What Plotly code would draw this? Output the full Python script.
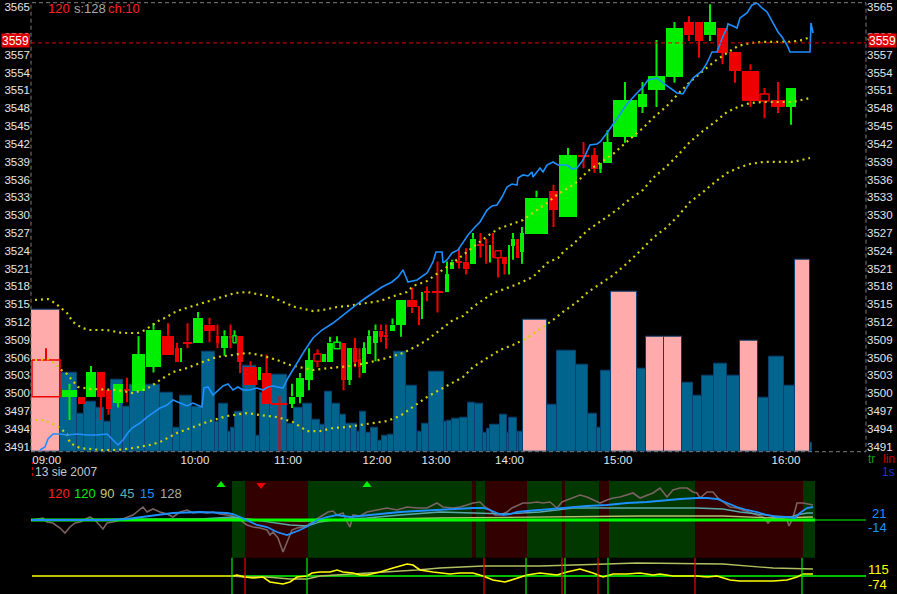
import plotly.graph_objects as go

W, H = 897, 594
FONT = "Liberation Sans, Arial, sans-serif"

# ---------------- data ----------------
# x: cumulative trade-count units (axis spans 31..866)
cand_x0 = [32,62,78,86,97,106,113,124,132,146,162,175,180,183,193,204,216,221,229,233,237,244,258,262,272,289,296,305,314,322,327,334,341,347,353,358,362,367,373,379,384,390,396,407,418,421,424,432,445,450,456,463,470,477,485,489,492,495,502,508,511,516,520,525,549,559,578,591,599,603,613,638,648,666,684,695,704,717,729,742,760,771,786]
cand_x1 = [60,77,85,96,105,111,123,130,145,161,174,179,182,192,203,215,219,228,232,236,243,257,261,271,287,295,304,313,321,326,333,340,346,352,357,361,366,371,378,383,388,395,406,417,420,423,430,443,449,454,462,469,476,484,487,491,494,501,507,510,515,519,524,548,558,577,589,598,602,612,637,647,665,683,694,703,716,728,741,759,769,785,796]
cand_open = [3505.6,3499.4,3499.5,3499.4,3503.6,3500.6,3498.4,3500.7,3500.4,3504.5,
             3509.7,3507.6,3505.4,3508.7,3508.6,3511.6,3509.7,3507.6,3509.7,3508.5,
             3509.7,3504.5,3502.3,3503.4,3498.4,3498.3,3499.4,3502.3,3506.6,3505.4,
             3505.4,3507.5,3508.6,3502.3,3507.6,3505.8,3503.4,3506.6,3508.6,3510.6,
             3509.8,3510.5,3511.5,3515.8,3514.7,3513.6,3517.2,3517.2,3517.1,3520.9,
             3522.3,3522.2,3521.8,3525.1,3525.0,3522.8,3525.0,3524.0,3523.0,3521.8,
             3524.9,3526.0,3523.9,3526.8,3534.1,3529.8,3540.2,3540.1,3537.9,3538.9,
             3543.2,3548.2,3551.2,3553.3,3562.5,3562.5,3560.3,3561.5,3557.5,3554.4,
             3550.4,3549.4,3548.2]
cand_high = [3507.6,3501.6,3499.5,3504.6,3503.6,3500.6,3501.6,3502.6,3509.6,3511.8,
             3511.8,3508.5,3507.6,3511.8,3513.7,3512.7,3511.6,3510.6,3511.6,3510.6,
             3509.7,3505.4,3504.5,3506.5,3499.5,3501.6,3503.4,3507.6,3507.4,3506.6,
             3509.5,3509.6,3508.6,3507.6,3509.3,3507.6,3508.6,3510.6,3511.6,3511.6,
             3511.6,3512.6,3515.8,3517.8,3514.7,3517.1,3518.0,3522.2,3522.2,3522.5,
             3524.5,3524.4,3527.0,3527.0,3526.0,3525.0,3527.0,3524.0,3523.0,3525.0,
             3527.0,3526.0,3528.0,3534.1,3535.1,3541.3,3542.3,3541.3,3538.9,3544.3,
             3552.4,3552.4,3559.5,3562.5,3563.5,3562.5,3565.5,3561.5,3557.5,3555.4,
             3551.4,3552.4,3551.4]
cand_low = [3499.4,3495.5,3498.3,3499.4,3495.5,3496.4,3497.6,3498.5,3500.4,3503.5,
            3506.5,3505.4,3505.4,3507.6,3508.6,3508.6,3507.6,3506.3,3507.6,3508.5,
            3503.4,3501.4,3502.3,3498.3,3490.2,3497.5,3498.3,3500.5,3504.4,3505.4,
            3505.4,3507.5,3500.5,3501.4,3504.4,3502.6,3503.4,3506.6,3505.4,3508.6,
            3507.5,3510.5,3509.5,3513.5,3511.5,3512.5,3515.5,3513.6,3517.1,3520.9,
            3521.0,3520.0,3521.8,3522.8,3521.8,3522.0,3522.8,3519.5,3520.0,3520.0,
            3522.5,3522.8,3521.8,3526.8,3528.0,3529.8,3537.9,3537.1,3537.1,3538.9,
            3542.2,3547.2,3548.2,3552.3,3559.3,3556.5,3559.3,3555.4,3552.3,3548.2,
            3546.3,3547.2,3545.2]
cand_close = [3499.4,3500.6,3498.3,3503.6,3499.4,3497.4,3501.6,3500.5,3506.6,3510.7,
              3506.5,3505.4,3507.6,3508.5,3512.7,3510.5,3508.5,3509.7,3509.5,3509.7,
              3505.4,3501.4,3504.5,3498.3,3498.2,3499.5,3502.6,3505.6,3505.4,3506.6,
              3508.6,3508.6,3502.3,3507.6,3505.4,3504.4,3507.6,3509.7,3510.6,3509.5,
              3509.6,3511.6,3515.8,3514.5,3513.5,3517.1,3517.0,3517.0,3520.1,3522.2,
              3522.1,3520.9,3526.0,3524.9,3522.8,3525.0,3522.8,3522.8,3521.8,3525.0,
              3526.0,3522.8,3527.0,3533.0,3530.9,3540.1,3540.0,3537.9,3538.9,3542.3,
              3549.4,3550.4,3553.4,3561.5,3560.3,3559.3,3562.5,3557.3,3554.3,3549.2,
              3549.2,3548.2,3551.4]
hollow_idx = [0, 19, 28, 31, 57, 80]

vol_x0 = [31,60,77,84,96,104,111,123,130,145,160,173,180,192,202,215,219,228,231,235,243,256,260,270,287,294,303,312,320,325,332,340,346,351,357,360,366,371,378,382,388,394,406,417,418,422,429,444,447,452,460,468,475,483,487,490,500,507,509,517,519,523,547,557,576,588,597,601,611,637,646,664,682,693,702,714,727,740,758,769,784,795,810]
vol_x1 = [60,77,84,96,104,111,123,130,145,160,173,180,192,202,215,219,228,231,235,243,256,260,270,287,294,303,312,320,325,332,340,346,351,357,360,366,371,378,382,388,394,406,417,418,422,429,444,447,452,460,468,475,483,487,490,500,507,509,517,519,523,547,557,576,588,597,601,611,637,646,664,682,693,702,714,727,740,758,769,784,795,810,812]
volume = [142,79,38,50,44,30,72,45,67,67,59,24,56,45,100,30,48,20,24,40,86,16,59,77,28,44,48,32,27,60,48,37,28,28,20,40,19,24,11,16,17,100,66,14,20,28,80,30,31,33,34,49,48,19,23,27,37,19,34,20,20,132,47,101,87,38,24,81,160,83,115,115,69,56,76,88,76,111,54,95,66,192,9]
vol_pink_idx = [0, 61, 68, 70, 71, 77, 81]

line_x = [40,45,48,53,60,67,77,87,97,107,115,118,123,127,132,140,147,153,160,167,173,180,187,193,200,202,204,208,213,218,223,228,233,238,243,250,257,263,268,273,283,288,297,305,313,322,333,343,353,360,367,377,382,392,398,403,408,417,427,433,436,442,443,447,452,458,463,468,475,480,487,492,497,502,507,512,517,518,523,528,532,533,540,543,547,553,558,567,572,577,583,590,597,600,607,617,627,637,643,648,657,663,670,677,683,687,693,702,707,712,717,723,727,728,733,737,740,747,752,757,762,767,773,778,782,787,790,800,810,811,813]
line_p = [3490.45,3490.95,3492.30,3493.14,3493.14,3492.97,3493.14,3492.97,3492.97,3493.14,3491.79,3491.29,3492.13,3493.14,3494.15,3494.99,3496.00,3496.68,3497.52,3498.02,3498.87,3498.36,3497.86,3498.36,3497.86,3497.69,3500.89,3501.06,3499.71,3500.55,3501.22,3501.56,3500.55,3501.06,3500.55,3500.55,3500.89,3500.55,3501.06,3501.22,3500.89,3502.57,3505.10,3507.29,3509.31,3510.65,3511.83,3513.18,3514.53,3515.37,3516.21,3517.39,3517.90,3518.74,3519.58,3520.76,3518.74,3519.08,3520.25,3522.11,3523.79,3523.79,3521.94,3522.44,3523.62,3524.13,3525.31,3526.65,3528.00,3528.84,3530.86,3531.54,3531.71,3533.05,3534.74,3535.24,3535.07,3536.25,3536.76,3536.59,3537.26,3536.42,3537.94,3537.26,3538.44,3538.95,3538.44,3538.44,3537.77,3537.94,3539.28,3541.81,3541.98,3542.32,3543.83,3546.36,3548.72,3550.57,3551.58,3552.76,3553.09,3552.25,3551.41,3550.57,3550.40,3551.58,3553.09,3554.27,3555.62,3557.47,3557.47,3560.17,3561.51,3562.19,3561.85,3561.51,3563.20,3564.04,3565.39,3565.72,3564.88,3564.21,3562.36,3560.84,3560.00,3558.65,3557.47,3557.47,3557.47,3562.36,3560.67]

bandU_x = [35,48,55,60,67,73,82,90,107,122,138,145,153,160,167,173,180,193,205,220,235,247,258,272,283,295,313,323,337,348,360,380,397,407,413,427,438,450,463,474,486,498,510,523,534,547,558,570,577,588,600,613,630,643,653,667,678,690,703,715,727,738,750,763,790,803,810]
bandU_p = [3515.71,3515.87,3515.20,3514.53,3513.52,3512.00,3510.99,3510.65,3510.65,3510.15,3510.15,3510.65,3511.50,3512.34,3512.84,3513.52,3514.02,3514.70,3515.37,3516.21,3516.88,3517.05,3516.72,3516.21,3515.37,3514.53,3513.85,3514.02,3514.53,3514.70,3515.03,3515.54,3516.55,3517.05,3518.06,3518.90,3520.25,3521.60,3523.28,3524.80,3526.31,3527.66,3528.34,3529.18,3530.52,3532.04,3533.56,3534.74,3535.58,3537.43,3538.78,3540.29,3542.82,3544.67,3546.36,3548.38,3550.40,3552.42,3554.27,3555.96,3557.30,3558.48,3558.99,3559.16,3559.16,3559.49,3559.99]
bandM_x = [35,48,55,60,67,78,90,117,133,143,150,160,173,187,200,217,233,247,260,277,290,300,313,330,350,367,387,403,417,427,443,453,463,473,480,493,510,520,533,547,558,565,570,588,607,618,630,643,653,667,678,690,703,715,727,738,750,763,793,810]
bandM_p = [3505.60,3505.77,3505.10,3504.09,3503.24,3501.06,3500.72,3500.55,3500.04,3500.55,3501.06,3502.23,3503.58,3504.25,3505.10,3506.11,3506.45,3506.79,3506.45,3505.60,3504.76,3504.42,3503.92,3504.25,3504.59,3505.10,3505.94,3506.79,3507.96,3508.97,3510.99,3512.34,3513.01,3514.53,3515.37,3516.88,3517.90,3518.57,3519.58,3521.94,3522.78,3524.13,3524.63,3527.50,3529.69,3531.03,3532.72,3534.23,3536.25,3538.27,3540.13,3542.32,3544.17,3545.68,3547.37,3548.21,3548.88,3549.05,3549.05,3549.73]
bandL_x = [35,43,53,60,67,70,80,100,117,133,150,160,177,193,207,227,247,260,277,293,307,320,333,347,360,373,387,400,413,427,443,463,473,487,500,513,527,540,553,563,577,588,601,612,624,637,653,667,678,690,703,715,727,738,750,763,793,810]
bandL_p = [3495.50,3495.50,3494.82,3494.15,3493.14,3491.62,3490.78,3490.45,3490.45,3490.78,3491.29,3491.79,3493.31,3494.32,3495.16,3496.17,3496.67,3496.34,3496.00,3495.16,3493.64,3493.64,3494.15,3494.32,3494.65,3494.99,3495.33,3496.17,3497.69,3499.37,3500.89,3502.74,3504.42,3505.94,3507.29,3508.13,3509.31,3510.82,3512.34,3513.69,3515.37,3517.05,3518.57,3519.75,3521.43,3523.45,3526.15,3528.00,3529.85,3532.21,3533.89,3535.58,3537.09,3537.94,3538.61,3538.95,3538.95,3539.62]

# indicator panel 1
osc128_x = [32,43,47,53,60,65,70,75,80,90,95,100,103,107,113,120,127,133,138,143,147,153,160,167,173,180,187,193,200,207,213,220,227,233,240,247,253,260,267,270,273,278,283,287,292,297,303,308,313,320,328,333,337,343,347,350,353,360,367,377,387,397,407,417,427,437,443,453,460,467,473,480,485,490,495,500,507,512,518,523,530,537,543,550,557,562,567,573,580,587,593,600,607,613,620,627,633,640,647,653,660,667,673,680,687,693,697,700,707,713,718,723,730,737,743,750,757,763,768,773,780,787,789,793,797,803,813]
osc128_v = [0,2,-2,-3,-8,-13,-7,-3,-2,3,0,-5,-9,-3,-2,0,3,5,9,13,8,11,8,6,3,8,10,7,8,7,8,6,5,4,0,-5,-7,-8,-10,-15,-12,-18,-32,-22,-10,-8,-7,-5,-2,3,8,9,5,7,-2,-7,5,4,8,10,12,10,13,12,12,17,13,12,13,15,17,18,13,10,5,5,8,12,15,17,17,18,17,18,12,18,20,22,25,23,20,17,20,22,23,25,27,22,25,27,32,23,30,32,32,28,27,22,28,28,22,18,13,12,10,8,5,3,-3,2,2,0,-6,2,17,17,15]
osc15_x = [32,110,127,140,157,173,200,227,233,240,247,257,267,277,287,293,300,308,317,327,337,350,360,370,383,400,417,433,450,473,483,490,497,503,510,517,527,540,557,573,587,607,627,647,667,680,697,707,717,727,737,747,757,767,777,787,795,800,807,813]
osc15_v = [0,0,1,3,5,7,8,7,6,3,0,-5,-7,-12,-15,-13,-10,-6,0,3,5,3,4,5,7,8,9,10,11,12,12,10,7,5,6,8,9,10,12,13,14,15,17,18,20,21,22,22,21,17,13,10,8,5,3,3,2,7,12,13]
osc45_x = [32,200,233,247,267,290,307,320,333,367,400,440,507,540,573,607,697,723,740,773,790,797,807,813]
osc45_v = [0,1,3,1,-2,-5,-6,-2,0,2,5,8,6,8,12,12,12,11,8,4,3,5,7,7]
osc90_x = [32,233,300,333,440,540,640,723,773,813]
osc90_v = [0,1,-1,0,2,3,4,4,2,3]
regime_edges = [232,245,308,472,476,485,527,562,565,599,609,695,803,815]
arrows_x = [221, 261, 367]
arrows_up = [True, False, True]

# indicator panel 2
sig_x = [32,232,237,240,245,253,263,270,283,290,297,307,312,320,330,337,343,353,360,367,380,393,407,413,420,433,450,460,473,483,493,505,517,527,540,557,567,580,593,603,613,627,640,653,660,673,687,697,707,717,730,740,773,787,797,803,813]
sig_v = [0,0,1,0,-1,-2,-1,-6,-8,-6,-1,0,3,4,4,6,4,3,1,1,4,8,12,11,6,4,2,3,3,0,-4,-6,-2,1,3,1,4,7,3,-1,2,2,3,1,2,0,0,0,-1,0,-4,-5,-5,-4,-1,2,2]
slow_x = [232,245,267,290,307,320,417,440,483,540,607,637,723,773,813]
slow_v = [0,-1,-1,-3,-3,0,6,8,10,10,12,13,12,8,7]
signal_lines_x = [232,245,307,484,526,562,565,598,608,695,802]
signal_lines_buy = [True,False,True,False,True,False,True,False,True,False,True]

time_tick_pos = [46.7,195,288,377,436,509.5,618,786]
time_tick_txt = ["09:00","10:00","11:00","12:00","13:00","14:00","15:00","16:00"]
price_ticks = [3491 + 3*k for k in range(23)] + [3560, 3565]
last_price = 3559

# ---------------- figure ----------------
GREEN = "#00ee00"; RED = "#ee0000"; BLUE = "#1e8fff"; DOT = "#d2d200"
fig = go.Figure()

vcol = ["#ffabab" if i in vol_pink_idx else "#00648c" for i in range(len(volume))]
fig.add_trace(go.Bar(x=[(a+b)/2 for a, b in zip(vol_x0, vol_x1)], y=volume,
                     width=[b-a for a, b in zip(vol_x0, vol_x1)],
                     marker=dict(color=vcol, line=dict(color="#0b3f6e", width=1)),
                     yaxis="y", hoverinfo="skip", showlegend=False))

cx = [(a+b)/2 for a, b in zip(cand_x0, cand_x1)]
cw = [b-a for a, b in zip(cand_x0, cand_x1)]
ccol = [GREEN if c > o else RED for o, c in zip(cand_open, cand_close)]
for colr in (GREEN, RED):
    wx, wy = [], []
    for i in range(len(cx)):
        if ccol[i] != colr:
            continue
        top = max(cand_open[i], cand_close[i]); bot = min(cand_open[i], cand_close[i])
        if cand_high[i] > top:
            wx += [cx[i], cx[i], None]; wy += [top, cand_high[i], None]
        if cand_low[i] < bot:
            wx += [cx[i], cx[i], None]; wy += [bot, cand_low[i], None]
    fig.add_trace(go.Scatter(x=wx, y=wy, mode="lines", line=dict(color=colr, width=2),
                             yaxis="y2", hoverinfo="skip", showlegend=False))
# filled bodies
MINB = 0.3
solid = [i for i in range(len(cx)) if i not in hollow_idx]
base, hgt = [], []
for i in solid:
    o, c = cand_open[i], cand_close[i]
    b = min(o, c); h = abs(c - o)
    if h < MINB:
        b -= (MINB - h) / 2; h = MINB
    base.append(b); hgt.append(h)
fig.add_trace(go.Bar(x=[cx[i] for i in solid], y=hgt, base=base, width=[cw[i] for i in solid],
                     marker=dict(color=[ccol[i] for i in solid], line=dict(width=0)),
                     yaxis="y2", hoverinfo="skip", showlegend=False))
# hollow bodies (outlines)
for colr in (GREEN, RED):
    hx, hy = [], []
    for i in hollow_idx:
        if ccol[i] != colr:
            continue
        o, c = cand_open[i], cand_close[i]
        hx += [cand_x0[i], cand_x1[i], cand_x1[i], cand_x0[i], cand_x0[i], None]
        hy += [o, o, c, c, o, None]
    if hx:
        fig.add_trace(go.Scatter(x=hx, y=hy, mode="lines", line=dict(color=colr, width=1.5),
                                 yaxis="y2", hoverinfo="skip", showlegend=False))

for bx, bp in ((bandU_x, bandU_p), (bandM_x, bandM_p), (bandL_x, bandL_p)):
    fig.add_trace(go.Scatter(x=bx, y=bp, mode="lines", line=dict(color=DOT, width=2.2, dash="2px,4px"),
                             yaxis="y2", hoverinfo="skip", showlegend=False))
fig.add_trace(go.Scatter(x=line_x, y=line_p, mode="lines", line=dict(color=BLUE, width=1.6),
                         yaxis="y2", hoverinfo="skip", showlegend=False))
fig.add_trace(go.Scatter(x=[cand_x0[0]], y=[last_price], mode="markers", marker=dict(opacity=0),
                         yaxis="y5", hoverinfo="skip", showlegend=False))

fig.add_trace(go.Scatter(x=osc128_x, y=osc128_v, mode="lines", line=dict(color="#7a6262", width=1.6),
                         yaxis="y3", hoverinfo="skip", showlegend=False))
fig.add_trace(go.Scatter(x=osc90_x, y=osc90_v, mode="lines", line=dict(color="#b8c070", width=1.3),
                         yaxis="y3", hoverinfo="skip", showlegend=False))
fig.add_trace(go.Scatter(x=osc45_x, y=osc45_v, mode="lines", line=dict(color="#5aa8a8", width=1.3),
                         yaxis="y3", hoverinfo="skip", showlegend=False))
fig.add_trace(go.Scatter(x=[31, 815], y=[0, 0], mode="lines", line=dict(color="#00ff00", width=3),
                         yaxis="y3", hoverinfo="skip", showlegend=False))
fig.add_trace(go.Scatter(x=[815, 866], y=[0, 0], mode="lines", line=dict(color="#00ff00", width=1.2),
                         yaxis="y3", hoverinfo="skip", showlegend=False))
fig.add_trace(go.Scatter(x=osc15_x, y=osc15_v, mode="lines", line=dict(color=BLUE, width=1.8),
                         yaxis="y3", hoverinfo="skip", showlegend=False))
fig.add_trace(go.Scatter(x=arrows_x, y=[35]*len(arrows_x), mode="markers",
                         marker=dict(symbol=["triangle-up" if u else "triangle-down" for u in arrows_up],
                                     color=["#00ee00" if u else "#ee0000" for u in arrows_up], size=8),
                         yaxis="y3", hoverinfo="skip", showlegend=False))

fig.add_trace(go.Scatter(x=[232, 866], y=[0, 0], mode="lines", line=dict(color="#00ff00", width=1.4),
                         yaxis="y4", hoverinfo="skip", showlegend=False))
fig.add_trace(go.Scatter(x=slow_x, y=slow_v, mode="lines", line=dict(color="#b0c060", width=1.3),
                         yaxis="y4", hoverinfo="skip", showlegend=False))
fig.add_trace(go.Scatter(x=sig_x, y=sig_v, mode="lines", line=dict(color="#ffff00", width=1.6),
                         yaxis="y4", hoverinfo="skip", showlegend=False))

shapes = []
shapes.append(dict(type="rect", xref="x domain", yref="y domain", x0=0, x1=1, y0=0, y1=1,
                   line=dict(color="#7c7c7c", width=1, dash="4px,3px"), layer="above"))
shapes.append(dict(type="line", xref="x domain", yref="y2", x0=0, x1=1, y0=last_price, y1=last_price,
                   line=dict(color="#dd0000", width=1, dash="4px,3px"), layer="above"))
for i in range(len(regime_edges) - 1):
    shapes.append(dict(type="rect", xref="x", yref="y3 domain", x0=regime_edges[i], x1=regime_edges[i+1],
                       y0=0, y1=1, fillcolor="#003800" if i % 2 == 0 else "#330000",
                       line=dict(width=0), layer="below"))
for sx, buy in zip(signal_lines_x, signal_lines_buy):
    shapes.append(dict(type="line", xref="x", yref="y4 domain", x0=sx, x1=sx, y0=0, y1=1,
                       line=dict(color="#00ee00" if buy else "#ee0000", width=1.2), layer="above"))
shapes.append(dict(type="line", xref="paper", yref="paper", x0=32.5/W, x1=32.5/W, y0=1-476/H, y1=1-462/H,
                   line=dict(color="#cc0000", width=1, dash="dot")))

def ann(text, x, y, color, size=12, anchor="left", **kw):
    return dict(text=text, x=x/W, y=1-y/H, xref="paper", yref="paper", showarrow=False,
                xanchor=anchor, yanchor="middle", font=dict(family=FONT, size=size, color=color), **kw)

anns = [
    ann("120", 46, 9, "#ff2020", 13), ann("s:128", 72, 9, "#a8a8a8", 13), ann("ch:10", 106, 9, "#ff2020", 13),
    ann("13 sie 2007", 33, 472, "#c8c8c8", 12),
    ann("120", 46, 493, "#ff2020", 13), ann("120", 72, 493, "#00ee00", 13), ann("90", 98, 493, "#c8c870", 13),
    ann("45", 118, 493, "#60b0b0", 13), ann("15", 138, 493, "#1e8fff", 13), ann("128", 158, 493, "#a8a8a8", 13),
    ann("tr", 866, 459, "#10a010", 12), ann("lin", 897, 459, "#cc0000", 12, anchor="right"),
    ann("1s", 897, 472, "#2030d0", 12, anchor="right"),
    ann("21", 870, 513, "#1e8fff", 13), ann("-14", 866, 527, "#1e8fff", 13),
    ann("115", 866, 569, "#ffff00", 13), ann("-74", 866, 584, "#ffff00", 13),
    ann("3559", 15.5, 40.5, "#ffffff", 12, anchor="center", bgcolor="#dd0000", width=27, height=13, borderpad=0),
    ann("3559", 882.5, 40.5, "#ffffff", 12, anchor="center", bgcolor="#dd0000", width=27, height=13, borderpad=0),
]

PR = [3490.16, 3565.77]
main_dom = [1 - 451.7/H, 1 - 2.7/H]
tickfont = dict(family=FONT, size=11.5, color="#e6e6e6")
fig.update_layout(
    width=W, height=H, margin=dict(l=0, r=0, t=0, b=0, autoexpand=False),
    paper_bgcolor="#000000", plot_bgcolor="#000000", barmode="overlay", bargap=0,
    showlegend=False, shapes=shapes, annotations=anns,
    xaxis=dict(domain=[31/W, 866/W], range=[31, 866], anchor="y", showgrid=False, zeroline=False,
               showline=False, ticks="", tickvals=time_tick_pos, ticktext=time_tick_txt,
               tickfont=tickfont, automargin=False),
    yaxis=dict(domain=main_dom, range=[0, 449], visible=False, fixedrange=True),
    yaxis2=dict(overlaying="y", side="left", anchor="x", range=PR, tickvals=price_ticks,
                showgrid=False, zeroline=False, showline=False, ticks="", tickfont=tickfont, automargin=False),
    yaxis5=dict(overlaying="y", side="right", anchor="x", range=PR, tickvals=price_ticks,
                showgrid=False, zeroline=False, showline=False, ticks="", tickfont=tickfont, automargin=False),
    yaxis3=dict(domain=[1 - 557.7/H, 1 - 481/H], range=[-37.7, 39], visible=False, anchor="x"),
    yaxis4=dict(domain=[0, 1 - 557.7/H], range=[-18, 18.3], visible=False, anchor="x"),
)
fig.write_html("out.html", config={"displayModeBar": False},
               post_script="document.body.style.margin='0';document.body.style.padding='0';document.body.style.background='#000';")
